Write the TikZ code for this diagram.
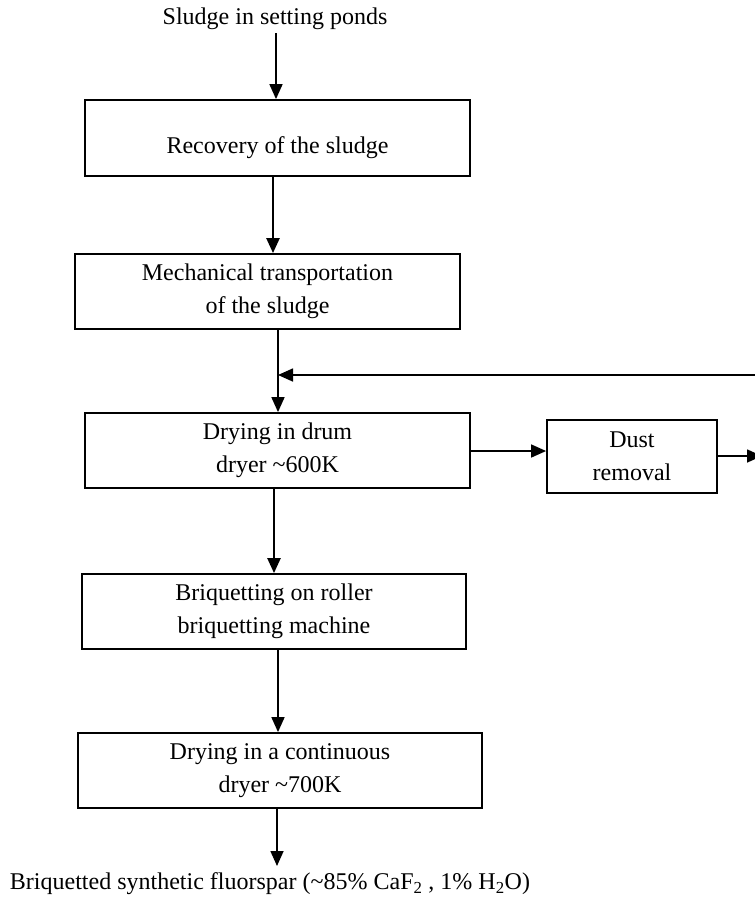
\documentclass[tikz,border=0pt]{standalone}
\usepackage{fontspec}
\setmainfont{Liberation Serif}
\usetikzlibrary{arrows.meta}
\begin{document}
\begin{tikzpicture}[x=1pt,y=-1pt,
  every node/.style={font=\fontsize{24}{33}\selectfont, align=center, inner sep=0pt},
  procbox/.style={draw, line width=1.8pt},
  flow/.style={line width=1.6pt, -{Triangle[length=15pt,width=13pt]}},
  thickflow/.style={line width=2.4pt, -{Triangle[length=15pt,width=13pt]}},
  plain/.style={line width=1.6pt}]
\useasboundingbox (0,0) rectangle (755,898);
\clip (0,0) rectangle (755,898);
\fill[white] (0,0) rectangle (755,898);
% title
\node (src) at (275,19) {Sludge in setting ponds};
% boxes
\node[procbox, minimum width=385pt, minimum height=76pt] (b1) at (277.5,138)
  {\raisebox{-10pt}[\height][\depth]{Recovery of the sludge}};
\node[procbox, minimum width=385pt, minimum height=75pt] (b2) at (267.5,291.5)
  {Mechanical transportation\\of the sludge};
\node[procbox, minimum width=385pt, minimum height=75pt] (b3) at (277.5,450.5)
  {Drying in drum\\dryer \textasciitilde600K};
\node[procbox, minimum width=170pt, minimum height=73pt] (dust) at (632,456.5)
  {Dust\\removal};
\node[procbox, minimum width=384pt, minimum height=75pt] (b4) at (274,611.5)
  {Briquetting on roller\\briquetting machine};
\node[procbox, minimum width=404pt, minimum height=75pt] (b5) at (280,770.5)
  {Drying in a continuous\\dryer \textasciitilde700K};
\node (prod) at (270,884) {Briquetted synthetic fluorspar (\textasciitilde85\% CaF\textsubscript{2} , 1\% H\textsubscript{2}O)};
% coordinates
\coordinate (rin) at (760,375);
\coordinate (join) at (278,375);
\coordinate (dout) at (762,456);
% connectors
\draw[flow] (276,33) -- (276,0 |- b1.north);
\draw[thickflow] (273,0 |- b1.south) -- (273,0 |- b2.north);
\draw[plain] (278,0 |- b2.south) -- (join);
\draw[flow] (join) -- (278,0 |- b3.north);
\draw[flow] (rin) -- (join);
\draw[flow] (b3.east |- 0,451) -- (dust.west |- 0,451);
\draw[flow] (dust.east |- 0,456) -- (dout);
\draw[thickflow] (274,0 |- b3.south) -- (274,0 |- b4.north);
\draw[flow] (278,0 |- b4.south) -- (278,0 |- b5.north);
\draw[flow] (277,0 |- b5.south) -- (277,866);
\end{tikzpicture}
\end{document}
